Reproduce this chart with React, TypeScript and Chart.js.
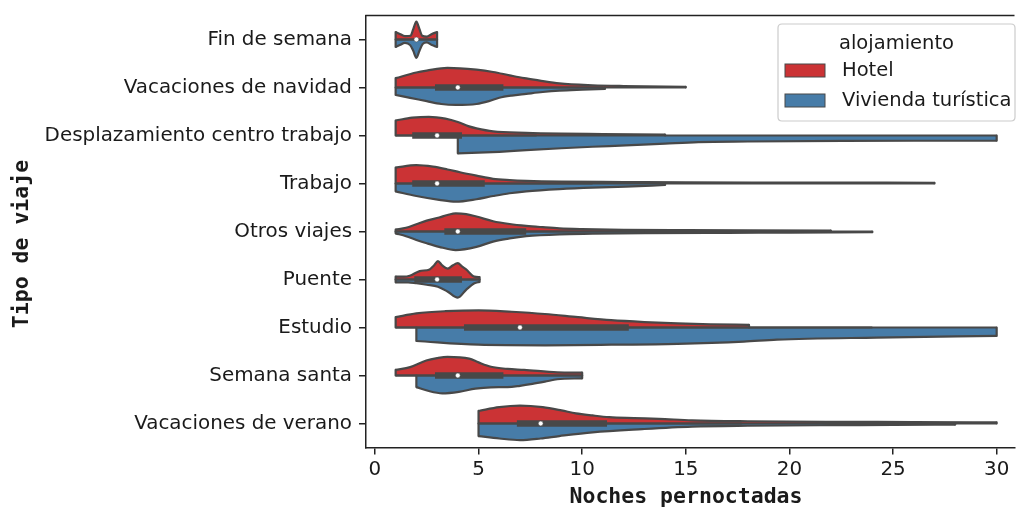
import React, { useEffect, useRef } from "react";
import { Chart, registerables } from "chart.js";

Chart.register(...registerables);

// ---------- data ----------
const categories = [
  "Fin de semana",
  "Vacaciones de navidad",
  "Desplazamiento centro trabajo",
  "Trabajo",
  "Otros viajes",
  "Puente",
  "Estudio",
  "Semana santa",
  "Vacaciones de verano",
];
const hues = ["Hotel", "Vivienda turística"];
const legendTitle = "alojamiento";
const xTitle = "Noches pernoctadas";
const yTitle = "Tipo de viaje";
const xTicks = [0, 5, 10, 15, 20, 25, 30];

// [noches, densidad relativa]
const hotelFinDeSemana = [[1, 0.4], [1.2, 0.3], [1.45, 0.18], [1.72, 0.2], [1.85, 0.55], [2, 0.95], [2.15, 0.55], [2.28, 0.2], [2.5, 0.15], [2.75, 0.3], [3, 0.4]];
const viviendaFinDeSemana = [[1, 0.4], [1.2, 0.3], [1.45, 0.18], [1.7, 0.3], [1.85, 0.6], [2, 0.98], [2.15, 0.6], [2.3, 0.25], [2.5, 0.15], [2.75, 0.3], [3, 0.4]];
const hotelNavidad = [[1, 0.5], [2, 0.8], [2.5, 0.9], [3.5, 1.05], [4.9, 0.95], [5.7, 0.83], [6.5, 0.65], [7.2, 0.5], [7.9, 0.38], [8.9, 0.22], [10.5, 0.12], [12, 0.08], [15, 0.04]];
const viviendaNavidad = [[1, 0.4], [1.7, 0.55], [2.5, 0.73], [3.2, 0.88], [3.9, 0.93], [4.9, 0.88], [5.5, 0.73], [6, 0.55], [6.6, 0.43], [7.3, 0.34], [8.1, 0.24], [8.9, 0.17], [10, 0.12], [11.1, 0.08]];
const hotelDesplazamiento = [[1, 0.8], [1.8, 0.95], [2.6, 1.0], [3.4, 0.9], [4.0, 0.72], [4.5, 0.5], [4.9, 0.38], [5.7, 0.22], [7.3, 0.14], [9, 0.1], [11, 0.08], [14, 0.05]];
const viviendaDesplazamiento = [[4, 0.95], [5, 0.92], [6, 0.87], [7.3, 0.78], [9, 0.68], [10.5, 0.6], [12.1, 0.53], [14, 0.43], [15.6, 0.35], [18, 0.32], [22.6, 0.29], [26, 0.28], [30, 0.28]];
const hotelTrabajo = [[1, 0.85], [2, 0.98], [2.8, 0.9], [3.5, 0.75], [4.1, 0.6], [4.9, 0.42], [5.7, 0.25], [6.5, 0.18], [7.3, 0.14], [9, 0.1], [12, 0.08], [15, 0.06], [20, 0.05], [27, 0.04]];
const viviendaTrabajo = [[1, 0.42], [2, 0.67], [3.1, 0.87], [3.9, 0.97], [4.9, 0.84], [5.7, 0.67], [6.5, 0.52], [7.3, 0.42], [8.9, 0.3], [10.5, 0.22], [12.1, 0.17], [14, 0.08]];
const hotelOtros = [[1, 0.1], [1.5, 0.2], [2, 0.39], [2.5, 0.58], [3.1, 0.75], [3.5, 0.88], [3.9, 0.97], [4.4, 0.93], [4.9, 0.8], [5.7, 0.55], [6.5, 0.4], [7.3, 0.3], [8.1, 0.23], [8.9, 0.17], [10, 0.13], [12, 0.09], [15, 0.07], [18, 0.06], [22, 0.05]];
const viviendaOtros = [[1, 0.1], [1.5, 0.25], [2, 0.45], [2.5, 0.63], [3.1, 0.82], [3.9, 0.99], [4.9, 0.82], [5.7, 0.54], [6.5, 0.37], [7.3, 0.25], [8.9, 0.15], [10.5, 0.12], [13, 0.09], [17, 0.07], [20, 0.06], [24, 0.04]];
const hotelPuente = [[1, 0.15], [1.4, 0.15], [1.68, 0.2], [2.16, 0.45], [2.64, 0.54], [2.85, 0.75], [3.04, 0.98], [3.25, 0.75], [3.52, 0.58], [3.75, 0.75], [4.0, 0.87], [4.2, 0.7], [4.4, 0.54], [4.8, 0.15], [5.05, 0.13]];
const viviendaPuente = [[1, 0.15], [1.6, 0.15], [2.0, 0.2], [2.5, 0.28], [3.04, 0.39], [3.5, 0.64], [4.0, 0.97], [4.4, 0.55], [4.8, 0.2], [5.05, 0.13]];
const hotelEstudio = [[1, 0.55], [2, 0.75], [3.4, 0.87], [5, 0.92], [6.6, 0.84], [8.2, 0.72], [9.8, 0.55], [11.4, 0.39], [13, 0.29], [14.6, 0.22], [16.2, 0.17], [18.05, 0.14]];
const viviendaEstudio = [[2, 0.72], [5, 0.92], [8.2, 0.95], [11.4, 0.92], [14.6, 0.87], [17.8, 0.75], [19.4, 0.65], [24.2, 0.54], [30, 0.45]];
const hotelSemanaSanta = [[1, 0.3], [1.7, 0.45], [2.48, 0.8], [3.0, 0.93], [3.5, 1.0], [4.55, 0.9], [5.0, 0.7], [5.6, 0.47], [6.4, 0.35], [7.2, 0.3], [8.8, 0.17], [10, 0.15]];
const viviendaSemanaSanta = [[2, 0.62], [2.6, 0.83], [3.25, 0.95], [4.05, 0.87], [4.85, 0.7], [5.6, 0.63], [6.4, 0.62], [7.0, 0.55], [7.6, 0.45], [8.2, 0.33], [8.8, 0.2], [10, 0.15]];
const hotelVerano = [[5, 0.67], [6, 0.87], [7, 0.95], [8.1, 0.87], [9, 0.7], [9.7, 0.54], [10.5, 0.43], [11.3, 0.34], [12.5, 0.29], [13.7, 0.25], [15.3, 0.17], [18, 0.12], [22, 0.09], [26, 0.08], [30, 0.06]];
const viviendaVerano = [[5, 0.67], [6, 0.8], [7, 0.89], [8, 0.8], [8.9, 0.67], [10.5, 0.47], [12.9, 0.3], [15.3, 0.17], [18, 0.12], [22, 0.09], [25, 0.08], [28, 0.06]];

const hotelDensities = [hotelFinDeSemana, hotelNavidad, hotelDesplazamiento, hotelTrabajo, hotelOtros, hotelPuente, hotelEstudio, hotelSemanaSanta, hotelVerano];
const viviendaDensities = [viviendaFinDeSemana, viviendaNavidad, viviendaDesplazamiento, viviendaTrabajo, viviendaOtros, viviendaPuente, viviendaEstudio, viviendaSemanaSanta, viviendaVerano];

// inner box (both halves together)
const boxQ1 = [2, 2.9, 1.8, 1.8, 3.35, 1.9, 4.3, 2.9, 6.85];
const boxMedian = [2, 4, 3, 3, 4, 3, 7, 4, 8];
const boxQ3 = [2, 6.2, 4.2, 5.3, 7.3, 4.2, 12.25, 6.2, 11.2];
const whiskerLow = [1, 1, 1, 1, 1, 1, 1, 1, 5];
const whiskerHigh = [3, 11, 7.8, 10.5, 13, 5, 24, 10, 17.7];

// ---------- styles ----------
const hueColors = ["#cb3335", "#477ca8"];
const lineGray = "#484848";
const axisColor = "#222222";
const textColor = "#1a1a1a";
const HALF = 0.39;
const LW = 2.2;
const tickFont = { family: "'DejaVu Sans'", size: 19.9 };

function buildDatasets() {
  const ds: any[] = [];
  categories.forEach((_, i) => {
    [hotelDensities[i], viviendaDensities[i]].forEach((pts, h) => {
      const sign = h === 0 ? -1 : 1;
      ds.push({
        type: "line",
        data: pts.map(([x, d]) => ({ x, y: i + sign * d * HALF })),
        borderColor: lineGray,
        borderWidth: LW,
        backgroundColor: hueColors[h],
        fill: { value: i },
        cubicInterpolationMode: "monotone",
        pointRadius: 0,
        order: 4,
      });
      const first = pts[0];
      const last = pts[pts.length - 1];
      ds.push({
        type: "line",
        data: [
          { x: first[0], y: i },
          { x: first[0], y: i + sign * first[1] * HALF },
          { x: first[0], y: null },
          { x: last[0], y: i + sign * last[1] * HALF },
          { x: last[0], y: i },
        ],
        borderColor: lineGray,
        borderWidth: LW,
        borderCapStyle: "round",
        fill: false,
        spanGaps: false,
        pointRadius: 0,
        order: 3,
      });
    });
    const allX = [...hotelDensities[i], ...viviendaDensities[i]].map((p) => p[0]);
    ds.push({
      type: "line",
      data: [
        { x: Math.min(...allX), y: i },
        { x: Math.max(...allX), y: i },
      ],
      borderColor: lineGray,
      borderWidth: LW,
      fill: false,
      pointRadius: 0,
      order: 2,
    });
    ds.push({
      type: "line",
      data: [
        { x: whiskerLow[i], y: i },
        { x: whiskerHigh[i], y: i },
      ],
      borderColor: lineGray,
      borderWidth: LW,
      fill: false,
      pointRadius: 0,
      order: 1,
    });
    ds.push({
      type: "line",
      data: [
        { x: boxQ1[i], y: i },
        { x: boxQ3[i], y: i },
      ],
      borderColor: lineGray,
      borderWidth: LW * 3,
      borderCapStyle: "butt",
      fill: false,
      pointRadius: 0,
      order: 1,
    });
    ds.push({
      type: "scatter",
      data: [{ x: boxMedian[i], y: i }],
      showLine: false,
      pointRadius: 2.4,
      pointBackgroundColor: "#ffffff",
      pointBorderColor: lineGray,
      pointBorderWidth: 0.5,
      order: 0,
    });
  });
  return ds;
}

const overlayPlugin = {
  id: "overlay",
  afterDraw(chart: any) {
    const ctx = chart.ctx as CanvasRenderingContext2D;
    const { left, top, right } = chart.chartArea;
    ctx.save();
    // top spine
    ctx.strokeStyle = axisColor;
    ctx.lineWidth = 1.5;
    ctx.beginPath();
    ctx.moveTo(left - 0.75, top);
    ctx.lineTo(right, top);
    ctx.stroke();

    // axis titles
    ctx.fillStyle = textColor;
    ctx.font = "bold 21.5px 'DejaVu Sans Mono'";
    ctx.textAlign = "center";
    ctx.textBaseline = "middle";
    ctx.fillText(xTitle, 686, 497);
    ctx.save();
    ctx.translate(22, 244);
    ctx.rotate(-Math.PI / 2);
    ctx.fillText(yTitle, 0, 0);
    ctx.restore();

    // legend
    const bx = 778, by = 24, bw = 237, bh = 97, r = 4;
    ctx.beginPath();
    ctx.moveTo(bx + r, by);
    ctx.lineTo(bx + bw - r, by);
    ctx.quadraticCurveTo(bx + bw, by, bx + bw, by + r);
    ctx.lineTo(bx + bw, by + bh - r);
    ctx.quadraticCurveTo(bx + bw, by + bh, bx + bw - r, by + bh);
    ctx.lineTo(bx + r, by + bh);
    ctx.quadraticCurveTo(bx, by + bh, bx, by + bh - r);
    ctx.lineTo(bx, by + r);
    ctx.quadraticCurveTo(bx, by, bx + r, by);
    ctx.closePath();
    ctx.fillStyle = "rgba(255,255,255,0.85)";
    ctx.fill();
    ctx.strokeStyle = "#cccccc";
    ctx.lineWidth = 1.2;
    ctx.stroke();

    ctx.font = "19.5px 'DejaVu Sans'";
    ctx.fillStyle = textColor;
    ctx.textAlign = "center";
    ctx.fillText(legendTitle, bx + bw / 2, 44);
    ctx.textAlign = "left";
    hues.forEach((h, k) => {
      const cy = 70.5 + k * 30;
      ctx.fillStyle = hueColors[k];
      ctx.fillRect(785, cy - 6.5, 40, 13);
      ctx.strokeStyle = lineGray;
      ctx.lineWidth = 1;
      ctx.strokeRect(785, cy - 6.5, 40, 13);
      ctx.fillStyle = textColor;
      ctx.fillText(h, 842, cy);
    });
    ctx.restore();
  },
};

export default function App() {
  const ref = useRef<HTMLCanvasElement | null>(null);
  useEffect(() => {
    document.body.style.margin = "0";
    const canvas = ref.current;
    if (!canvas) return;
    const chart = new Chart(canvas, {
      type: "line",
      data: { datasets: buildDatasets() },
      options: {
        animation: false,
        responsive: true,
        maintainAspectRatio: false,
        devicePixelRatio: 1,
        events: [],
        layout: { padding: { top: 15.5, left: 0, right: 0, bottom: 0 } },
        plugins: { legend: { display: false }, tooltip: { enabled: false } },
        scales: {
          x: {
            type: "linear",
            min: -0.43,
            max: 30.86,
            afterBuildTicks: (s: any) => {
              s.ticks = xTicks.map((v) => ({ value: v }));
            },
            afterFit: (s: any) => {
              s.height = 61.5;
              s.paddingLeft = 0;
              s.paddingRight = 0;
            },
            ticks: { font: tickFont, color: textColor, padding: 3, maxRotation: 0, autoSkip: false },
            grid: { display: true, drawOnChartArea: false, drawTicks: true, tickLength: 7, color: axisColor, lineWidth: 1.5 },
            border: { display: true, color: axisColor, width: 1.5 },
          },
          y: {
            type: "linear",
            reverse: true,
            min: -0.5,
            max: 8.5,
            afterBuildTicks: (s: any) => {
              s.ticks = categories.map((_, i) => ({ value: i }));
            },
            afterFit: (s: any) => {
              s.width = 366;
              s.paddingTop = 0;
              s.paddingBottom = 0;
            },
            ticks: {
              font: tickFont,
              color: textColor,
              padding: 7,
              autoSkip: false,
              callback: (v: any) => categories[Math.round(Number(v))] ?? "",
            },
            grid: { display: true, drawOnChartArea: false, drawTicks: true, tickLength: 7, color: axisColor, lineWidth: 1.5 },
            border: { display: true, color: axisColor, width: 1.5 },
          },
        },
      },
      plugins: [overlayPlugin],
    } as any);
    return () => chart.destroy();
  }, []);
  return (
    <div style={{ position: "relative", width: "1019px", height: "509px" }}>
      <canvas ref={ref} />
    </div>
  );
}
